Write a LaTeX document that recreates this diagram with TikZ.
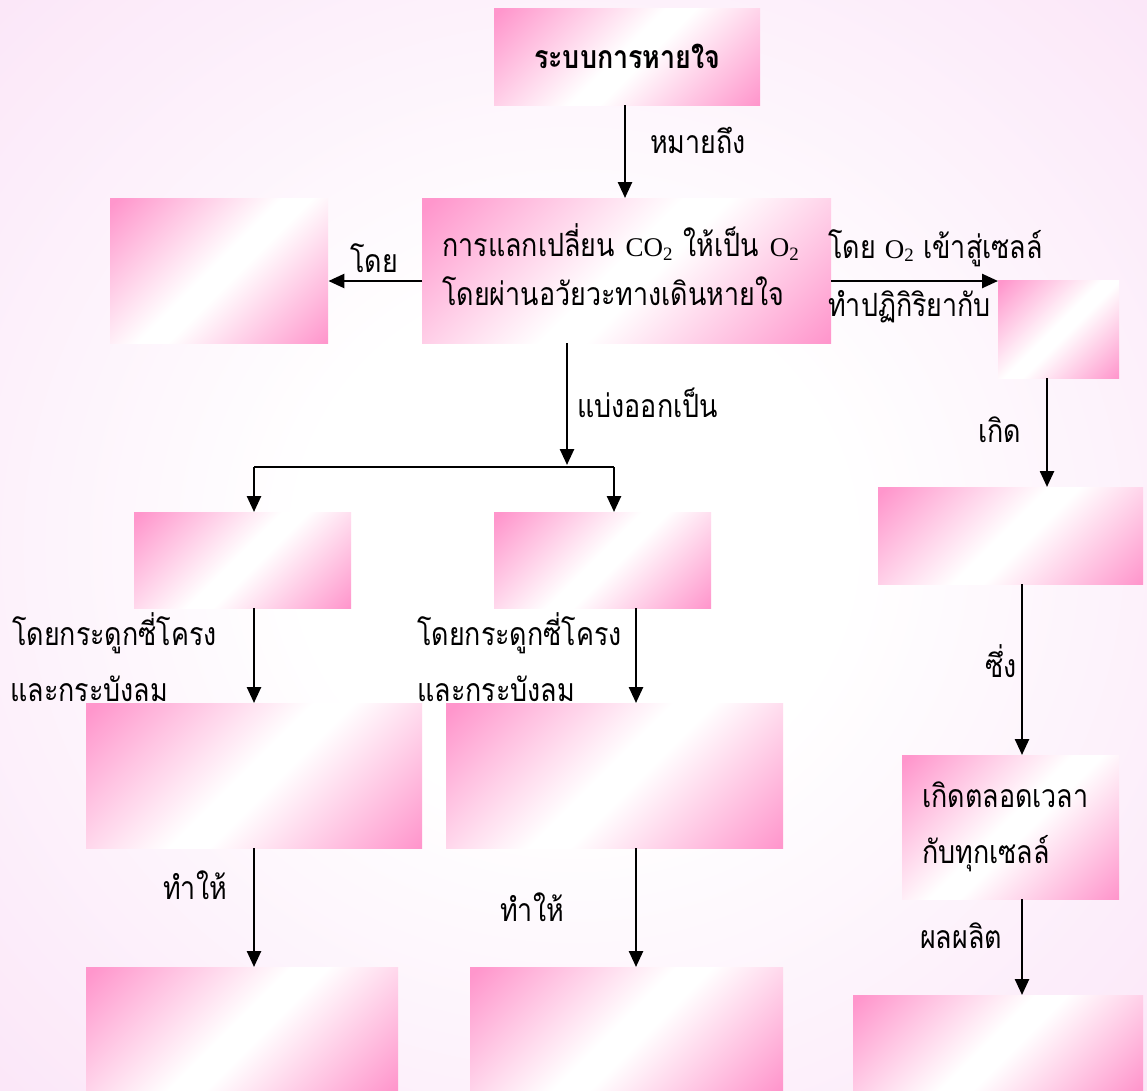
\documentclass[tikz,border=0pt]{standalone}
\usepackage{fontspec}
\setmainfont{Liberation Serif}
\newfontfamily\thai[Script=Thai,FakeStretch=0.84]{Loma}
\newfontfamily\latf{Liberation Serif}
\usetikzlibrary{arrows.meta}
\definecolor{bpink}{RGB}{255,150,204}
\definecolor{bglav}{RGB}{251,230,248}
\pgfdeclarehorizontalshading{boxshade}{100bp}{color(0bp)=(bpink); color(16bp)=(bpink); color(48bp)=(white); color(54bp)=(white); color(85bp)=(bpink); color(100bp)=(bpink)}
\pgfdeclareradialshading{bgshade}{\pgfpoint{0bp}{0bp}}{color(0bp)=(white); color(12bp)=(white); color(36bp)=(bglav); color(50bp)=(bglav)}
\newcommand\lt[1]{{\latf\fontsize{27}{30}\selectfont #1}}
\newcommand\sbs[1]{\textsubscript{#1}}
\begin{document}
\begin{tikzpicture}[x=1pt,y=-1pt,
  box/.style={shade, shading=boxshade, shading angle=-45, inner sep=0pt, anchor=north west, font=\thai\fontsize{32}{49}\selectfont, align=left},
  btxt/.style={inner sep=0pt, align=left, font=\thai\fontsize{32}{49}\selectfont},
  lbl/.style={anchor=base west, inner sep=0pt, font=\thai\fontsize{32}{36}\selectfont},
  arr/.style={line width=2.5pt, -{Triangle[length=16pt,width=14pt]}}]
\shade[shading=bgshade] (0,0) rectangle (1147,1090);
\useasboundingbox (0,0) rectangle (1147,1090);
% boxes
\node[box, minimum width=266pt, minimum height=97pt, align=center, font=\thai\bfseries\fontsize{32}{36}\selectfont] (A) at (494,8) {ระบบการหายใจ};
\node[box, minimum width=409pt, minimum height=145pt] (B) at (422,198) {};
\node[btxt, text width=369pt] (Bt) at ([yshift=6pt]B.center) {การแลกเปลี่ยน \lt{CO\sbs{2}} ให้เป็น \lt{O\sbs{2}}\\โดยผ่านอวัยวะทางเดินหายใจ};
\node[box, minimum width=218pt, minimum height=145pt] (C) at (110,198) {};
\node[box, minimum width=121pt, minimum height=98pt] (D) at (998,280) {};
\node[box, minimum width=265pt, minimum height=97pt] (E) at (878,487) {};
\node[box, minimum width=217pt, minimum height=144pt, inner xsep=20pt, text width=177pt, font=\thai\fontsize{32}{56}\selectfont] (F) at (902,755) {เกิดตลอดเวลา\\กับทุกเซลล์};
\node[box, minimum width=290pt, minimum height=95pt] (G) at (853,995) {};
\node[box, minimum width=217pt, minimum height=96pt] (H) at (134,512) {};
\node[box, minimum width=217pt, minimum height=96pt] (I) at (494,512) {};
\node[box, minimum width=336pt, minimum height=145pt] (J) at (86,703) {};
\node[box, minimum width=337pt, minimum height=145pt] (K) at (446,703) {};
\node[box, minimum width=312pt, minimum height=123pt] (L) at (86,967) {};
\node[box, minimum width=313pt, minimum height=123pt] (M) at (470,967) {};
% connectors
\coordinate (sp) at (567,467);
\coordinate (hl) at (254,467);
\coordinate (hr) at (614,467);
\coordinate (xj) at (254,0);
\coordinate (xk) at (636,0);
\coordinate (xd) at (1047,0);
\coordinate (xf) at (1022,0);
\draw[arr] (A.south -| 625,0) -- (B.north -| 625,0);
\draw[arr] (B.west |- 0,281) -- (C.east |- 0,281);
\draw[arr] (B.east |- 0,281) -- (D.west |- 0,281);
\draw[arr] (B.south -| sp) -- ([yshift=2pt]sp);
\draw[line width=2.2pt] (hl) -- (hr);
\draw[arr] (hl) -- (H.north -| hl);
\draw[arr] (hr) -- (I.north -| hr);
\draw[arr] (H.south -| xj) -- (J.north -| xj);
\draw[arr] (I.south -| xk) -- (K.north -| xk);
\draw[arr] (J.south -| xj) -- (L.north -| xj);
\draw[arr] (K.south -| xk) -- (M.north -| xk);
\draw[arr] (D.south -| xd) -- (E.north -| xd);
\draw[arr] (E.south -| xf) -- (F.north -| xf);
\draw[arr] (F.south -| xf) -- (G.north -| xf);
% labels
\node[lbl] (l1) at (650,153) {หมายถึง};
\node[lbl] (l2) at (350,272) {โดย};
\node[lbl] (l3) at (828,258) {โดย \lt{O\sbs{2}} เข้าสู่เซลล์};
\node[lbl] (l4) at (828,316) {ทำปฏิกิริยากับ};
\node[lbl] (l5) at (577,417) {แบ่งออกเป็น};
\node[lbl] (l6) at (12,645) {โดยกระดูกซี่โครง};
\node[lbl] (l7) at (10,701) {และกระบังลม};
\node[lbl] (l8) at (417,645) {โดยกระดูกซี่โครง};
\node[lbl] (l9) at (417,701) {และกระบังลม};
\node[lbl] (l10) at (163,899) {ทำให้};
\node[lbl] (l11) at (500,921) {ทำให้};
\node[lbl] (l12) at (978,442) {เกิด};
\node[lbl] (l13) at (985,677) {ซึ่ง};
\node[lbl] (l14) at (920,948) {ผลผลิต};
\end{tikzpicture}
\end{document}
